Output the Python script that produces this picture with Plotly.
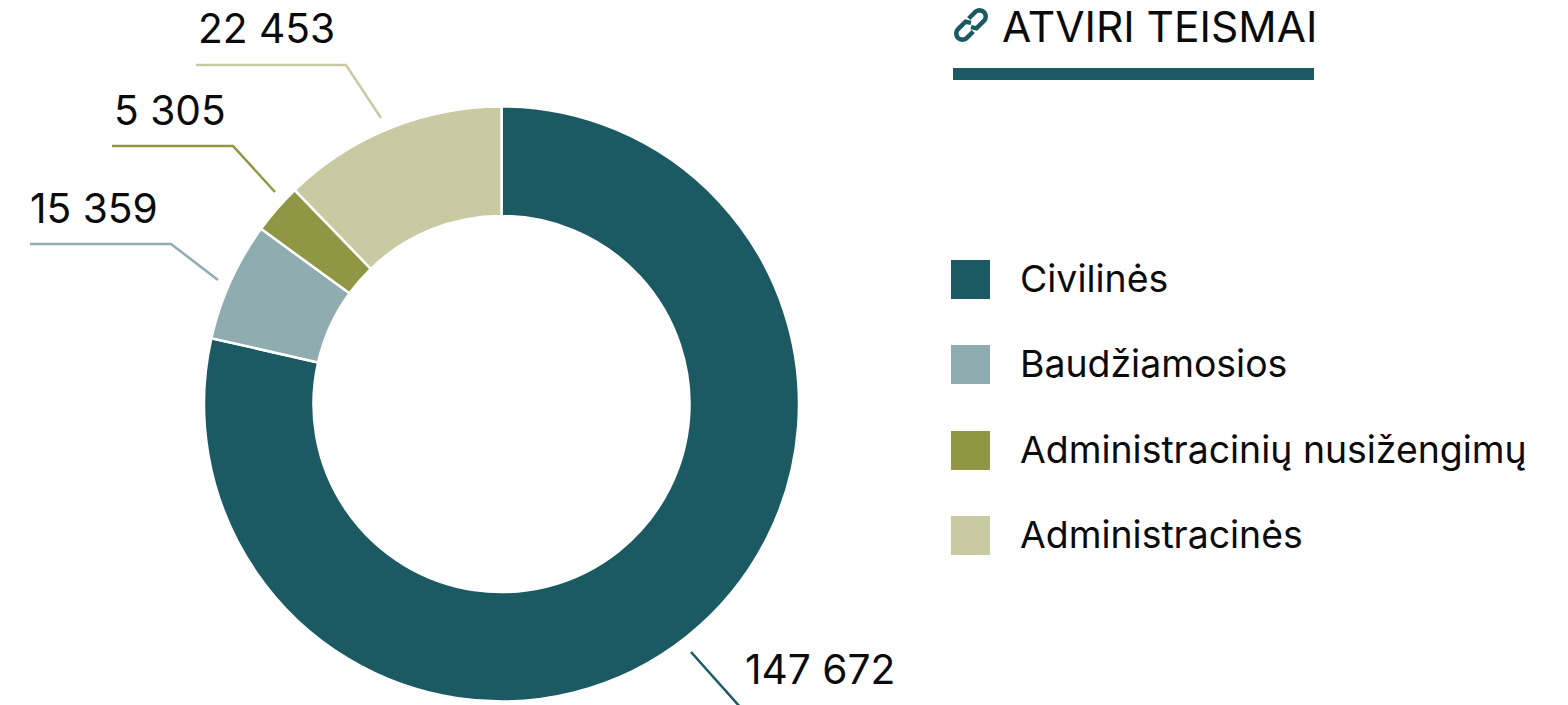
import math
import plotly.graph_objects as go

W, H = 1568, 705

categories = ["Civilinės", "Baudžiamosios", "Administracinių nusižengimų", "Administracinės"]
# Shares read from the drawn arcs, in percent
arc_shares = [78.55, 6.47, 2.75, 12.23]
# Numbers as printed next to the ring
value_labels = ["147 672", "15 359", "5 305", "22 453"]
colors = ["#1C5A63", "#8FACB0", "#919645", "#C9CAA2"]
title_text = "ATVIRI TEISMAI"

FONT = "Inter"
INK = "#0B0B0B"


def px(x):
    return x / W


def py(y):
    return 1 - y / H


def path(points, closed=False):
    s = "M " + " L ".join(f"{px(x):.5f},{py(y):.5f}" for x, y in points)
    return s + (" Z" if closed else "")


shapes = []
annotations = []


def text(x, y, s, size, color=INK):
    annotations.append(dict(
        x=px(x), y=py(y), xref="paper", yref="paper", text=s, showarrow=False,
        xanchor="left", yanchor="middle", borderpad=0,
        font=dict(family=FONT, size=size, color=color),
    ))


# Leader lines and value labels
leaders = [
    ([(691, 652), (741, 708)], colors[0]),
    ([(30, 244), (171, 244), (218, 280)], colors[1]),
    ([(112, 146), (233, 146), (275, 192)], colors[2]),
    ([(196, 65), (346, 65), (381, 118)], colors[3]),
]
for pts, c in leaders:
    shapes.append(dict(type="path", xref="paper", yref="paper", path=path(pts),
                       line=dict(color=c, width=2.5), fillcolor="rgba(0,0,0,0)"))

label_pos = [(744, 669), (29, 208), (113, 110.5), (197, 29)]
for (x, y), s in zip(label_pos, value_labels):
    text(x, y, s, 40.7)

# Legend
legend_tops = [260, 345, 431, 516]
for top, name, c in zip(legend_tops, categories, colors):
    shapes.append(dict(type="rect", xref="paper", yref="paper",
                       x0=px(951), x1=px(990), y0=py(top), y1=py(top + 39),
                       fillcolor=c, line=dict(width=0)))
    text(1019, top + 18.5, name, 37.4)

# Title with rule
text(1001, 27, title_text, 42.5)
shapes.append(dict(type="rect", xref="paper", yref="paper",
                   x0=px(953), x1=px(1314), y0=py(68), y1=py(80),
                   fillcolor=colors[0], line=dict(width=0)))


# Link icon: two open stadium pieces along the diagonal
def link_piece(sign):
    cx, cy = 971, 25
    rad = 6.2
    pts = []

    def add(s, v):
        s, v = s * sign, v * sign
        pts.append((cx + (s + v) * math.sqrt(0.5), cy + (-s + v) * math.sqrt(0.5)))

    add(-1.5, 1.5)
    add(1.5, rad)
    add(12, rad)
    for i in range(1, 16):
        a = math.pi / 2 - math.pi * i / 16
        add(12 + rad * math.cos(a), rad * math.sin(a))
    add(12, -rad)
    add(3, -rad)
    return pts


for sign in (1, -1):
    shapes.append(dict(type="path", xref="paper", yref="paper", path=path(link_piece(sign)),
                       line=dict(color=colors[0], width=4.5), fillcolor="rgba(0,0,0,0)"))

fig = go.Figure(go.Pie(
    labels=categories,
    values=arc_shares,
    sort=False,
    direction="clockwise",
    rotation=0,
    hole=0.632,
    textinfo="none",
    marker=dict(colors=colors, line=dict(color="#FFFFFF", width=2.5)),
    domain=dict(x=[204 / W, 799 / W], y=[1 - 701.5 / H, 1 - 106.5 / H]),
))
fig.update_layout(
    width=W, height=H,
    margin=dict(l=0, r=0, t=0, b=0),
    paper_bgcolor="#FFFFFF",
    showlegend=False,
    shapes=shapes,
    annotations=annotations,
)
fig.write_html(
    "out.html",
    config={"displayModeBar": False},
    post_script="document.body.style.margin='0';document.body.style.overflow='hidden';",
)
